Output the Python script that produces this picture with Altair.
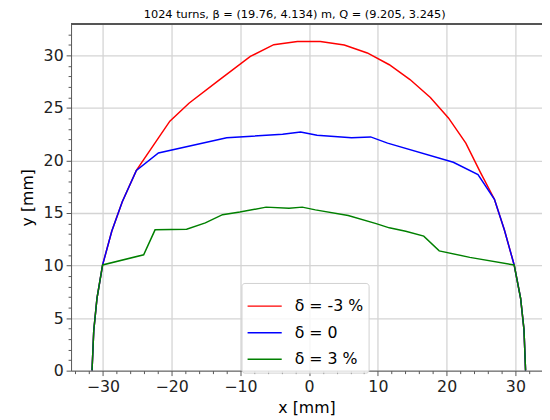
import altair as alt
import pandas as pd

series_names = ["δ = -3 %", "δ = 0", "δ = 3 %"]
series_colors = ["#ff0000", "#0000ff", "#008000"]

# shared aperture edges (left bottom and right bottom)
left_x = [-31.58, -31.33, -30.86, -30.04, -28.71, -27.18, -25.13]
left_y = [0.0, 3.80, 6.87, 10.06, 13.27, 16.08, 19.05]
right_x = [26.95, 28.38, 29.82, 30.76, 31.25, 31.48]
right_y = [16.31, 13.43, 10.06, 6.87, 3.90, 0.0]

red_x = [-20.26, -17.48, -13.2, -8.55, -5.15, -1.71, 1.63, 5.11, 8.46, 11.66,
         14.67, 17.63, 20.26, 22.79, 24.89]
red_y = [23.74, 25.45, 27.6, 29.90, 31.02, 31.33, 31.33, 30.98, 30.23, 29.11,
         27.70, 25.99, 24.05, 21.65, 18.89]

blue_x = [-21.92, -11.99, -3.86, -1.24, 1.15, 6.17, 8.94, 11.41, 20.97, 24.56]
blue_y = [20.71, 22.17, 22.49, 22.71, 22.40, 22.17, 22.24, 21.65, 19.83, 18.65]

green_x = [-24.07, -22.41, -17.82, -15.10, -12.60, -10.08, -6.26, -2.92, -1.00,
           0.91, 5.68, 9.75, 11.66, 14.05, 16.67, 18.92, 23.37]
green_y = [11.02, 13.40, 13.46, 14.06, 14.84, 15.09, 15.56, 15.46, 15.56,
           15.30, 14.77, 13.99, 13.59, 13.27, 12.80, 11.40, 10.78]

rows = []
def add(name, xs, ys):
    for i, (a, b) in enumerate(zip(xs, ys)):
        rows.append({"series": name, "i": i, "x": a, "y": b})

add(series_names[0], left_x + red_x + right_x, left_y + red_y + right_y)
add(series_names[1], left_x + blue_x + right_x, left_y + blue_y + right_y)
add(series_names[2], left_x[:4] + green_x + right_x[2:], left_y[:4] + green_y + right_y[2:])
df = pd.DataFrame(rows)

FONT = "DejaVu Sans"
W, H = 478, 352

x_vals = list(range(-34, 34, 2))
y_vals = list(range(0, 33, 1))

x_axis = alt.Axis(
    values=x_vals,
    labelExpr="datum.value % 10 === 0 ? datum.label : ''",
    labelOverlap=False,
    tickSize={"condition": {"test": "datum.value % 10 === 0", "value": 5}, "value": 3},
    gridOpacity={"condition": {"test": "datum.value % 10 === 0", "value": 1}, "value": 0},
    title="x [mm]",
)
y_axis = alt.Axis(
    values=y_vals,
    labelExpr="datum.value % 5 === 0 ? datum.label : ''",
    labelOverlap=False,
    tickSize={"condition": {"test": "datum.value % 5 === 0", "value": 5}, "value": 3},
    gridOpacity={"condition": {"test": "datum.value % 5 === 0", "value": 1}, "value": 0},
    title="y [mm]",
)

color = alt.Color(
    "series:N",
    scale=alt.Scale(domain=series_names, range=series_colors),
    legend=alt.Legend(title=None, orient="none", legendX=173, legendY=263),
)

def layer(name):
    return alt.Chart(df).transform_filter(alt.datum.series == name).mark_line(
        strokeWidth=1.5, clip=True
    ).encode(
        x=alt.X("x:Q", scale=alt.Scale(domain=[-34.63, 33.87], nice=False, zero=False), axis=x_axis),
        y=alt.Y("y:Q", scale=alt.Scale(domain=[0, 33], nice=False), axis=y_axis),
        color=color,
        order="i:Q",
    )

top_border = alt.Chart(df).mark_rule(color="#555", strokeWidth=1).encode(
    x=alt.value(0), x2=alt.value(W), y=alt.value(0)
)

chart = alt.layer(
    layer(series_names[0]), layer(series_names[1]), layer(series_names[2]), top_border
).properties(
    width=W, height=H,
    autosize=alt.AutoSizeParams(type="none"),
    padding={"left": 64, "top": 13, "right": 0, "bottom": 47},
    title=alt.TitleParams(
        "1024 turns, β = (19.76, 4.134) m, Q = (9.205, 3.245)",
        fontSize=11.5, font=FONT, fontWeight="normal", anchor="middle",
        dx=-12, offset=3, color="#000",
    ),
).configure_view(stroke=None).configure_axis(
    labelFont=FONT, titleFont=FONT, labelFontSize=16, titleFontSize=16,
    titleFontWeight="normal", labelColor="#222", titleColor="#000",
    domainColor="#555", tickColor="#555", gridColor="#d4d4d4", gridWidth=1.3,
    labelPadding=3,
).configure_axisX(titlePadding=5).configure_axisY(titlePadding=8).configure_legend(
    labelFont=FONT, labelFontSize=16, symbolType="stroke", symbolSize=1200,
    symbolStrokeWidth=1.5, strokeColor="#d0d0d0", fillColor="rgba(255,255,255,0.8)",
    cornerRadius=3, padding=5, labelOffset=12, rowPadding=-5, labelColor="#000",
)

chart.save("out.html", embed_options={"renderer": "svg", "actions": False})
